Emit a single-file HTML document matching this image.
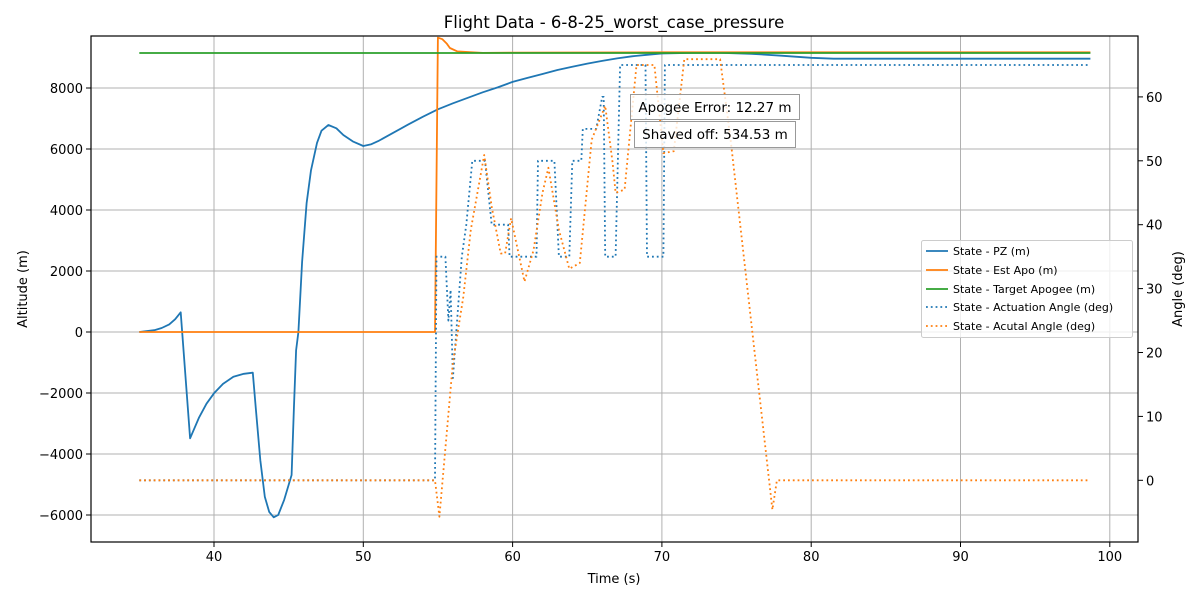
<!DOCTYPE html>
<html><head><meta charset="utf-8"><style>
body{margin:0;background:#fff;}
svg{display:block;font-family:"DejaVu Sans","Liberation Sans",sans-serif;}
</style></head><body>
<svg id="c" width="1200" height="600" xmlns="http://www.w3.org/2000/svg"></svg>
<script>
const xTicks=[40,50,60,70,80,90,100];
const yLeftTicks=[-6000,-4000,-2000,0,2000,4000,6000,8000];
const yRightTicks=[0,10,20,30,40,50,60];
const pzT=[35,36,36.5,37,37.4,37.77,38.4,39,39.5,40,40.6,41.3,42,42.6,42.8,43.1,43.4,43.7,44.0,44.3,44.7,45.2,45.35,45.5,45.65,45.9,46.2,46.5,46.9,47.2,47.66,48.2,48.66,49.3,50,50.5,51,52,53,54,55,56,57,58,59,60,61,62,63,64,65,66,67,68,69,70,72,74,76,78,80,81.5,98.7];
const pzV=[0,60,130,250,420,646,-3486,-2800,-2350,-2010,-1700,-1465,-1370,-1334,-2500,-4200,-5400,-5900,-6076,-6000,-5500,-4690,-2500,-600,0,2300,4220,5300,6200,6600,6787,6680,6459,6250,6098,6150,6260,6530,6800,7060,7300,7500,7680,7860,8020,8200,8330,8460,8590,8700,8800,8890,8970,9040,9090,9130,9150,9150,9120,9060,8990,8960,8960];
const apoT=[35,54.8,55.0,55.3,55.6,55.8,56.3,57,58,60,70,98.7];
const apoV=[0,0,9650,9600,9450,9311,9200,9180,9150,9160,9170,9170];
const tgtT=[35,98.7];
const tgtV=[9148,9148];
const actT=[35,54.8,54.9,55.5,55.7,55.85,56.0,56.6,56.9,57.3,58.15,58.6,59.7,59.8,61.6,61.7,62.8,63.1,63.8,64.0,64.6,64.7,65.6,66.0,66.1,66.2,66.9,67.2,68.9,69.0,70.1,70.2,98.7];
const actV=[0,0,35,35,25,29.8,16,35,40,50,50,40,40,35,35,50,50,35,35,50,50,55,55,60,60,35,35,65,65,35,35,65,65];
const realT=[35,54.8,55.1,56.0,56.7,57.2,58.1,58.6,59.2,59.5,59.9,60.8,61.4,62.0,62.4,63.1,63.8,64.5,65.3,66.2,66.7,66.9,67.5,68.3,69.5,70.1,70.8,71.5,73.9,74.6,77.4,77.7,98.7];
const realV=[0,0,-5.7,18.4,28.7,39.2,50.9,42.8,35.5,35.5,41,31.1,36,45,48.9,39.2,33.1,34,53.3,58.6,49.7,45,45.5,65,65,51.2,51.5,65.9,65.9,53.3,-4.6,0,0];

const L=91,R=1138,T=36,B=542;
const X=t=>214+(t-40)*14.93;
const YL=v=>332-v*0.0305;
const YR=v=>480.3-v*6.39;
const svg=document.getElementById('c');
const NS='http://www.w3.org/2000/svg';
function mk(tag,attrs,parent){const e=document.createElementNS(NS,tag);for(const k in attrs)e.setAttribute(k,attrs[k]);(parent||svg).appendChild(e);return e;}

const grid=mk('g',{});


xTicks.forEach(t=>{const l=mk('line',{x1:X(t),x2:X(t),y1:T,y2:B,stroke:'#b0b0b0','stroke-width':1},grid);

});
yLeftTicks.forEach(v=>{const l=mk('line',{x1:L,x2:R,y1:YL(v),y2:YL(v),stroke:'#b0b0b0','stroke-width':1},grid);

});

function series(T_,V_,Y,color,dash,name){
  const d=T_.map((t,i)=>(i?'L':'M')+X(t).toFixed(1)+' '+Y(V_[i]).toFixed(1)).join(' ');
  const a={d:d,fill:'none',stroke:color,'stroke-width':1.8,'stroke-linejoin':'round'};
  if(dash)a['stroke-dasharray']=dash;
  const p=mk('path',a);
  
  
}
series(pzT,pzV,YL,'#1f77b4',null,'pz-line');
series(apoT,apoV,YL,'#ff7f0e',null,'est-apo-line');
series(tgtT,tgtV,YL,'#2ca02c',null,'target-apogee-line');
series(actT,actV,YR,'#1f77b4','1.8 3','actuation-angle-line');
series(realT,realV,YR,'#ff7f0e','1.8 3','actual-angle-line');

const frame=mk('rect',{x:L,y:T,width:R-L,height:B-T,fill:'none',stroke:'#000','stroke-width':1.2});



xTicks.forEach(t=>{mk('line',{x1:X(t),x2:X(t),y1:B,y2:B+5,stroke:'#000'});
const tx=mk('text',{x:X(t),y:B+19,'font-size':13,'text-anchor':'middle'});tx.textContent=t;

});
yLeftTicks.forEach(v=>{mk('line',{x1:L-5,x2:L,y1:YL(v),y2:YL(v),stroke:'#000'});
const tx=mk('text',{x:L-8,y:YL(v)+5,'font-size':13,'text-anchor':'end'});tx.textContent=(v<0?'\u2212'+(-v):v);

});
yRightTicks.forEach(v=>{mk('line',{x1:R,x2:R+5,y1:YR(v),y2:YR(v),stroke:'#000'});
const tx=mk('text',{x:R+8,y:YR(v)+5,'font-size':13,'text-anchor':'start'});tx.textContent=v;

});
</script>
<svg style="position:absolute;left:0;top:0" width="1200" height="600" xmlns="http://www.w3.org/2000/svg">
<text x="614" y="28" font-size="16.5" text-anchor="middle" font-family="DejaVu Sans, Liberation Sans, sans-serif">Flight Data - 6-8-25_worst_case_pressure</text>
<text x="614" y="583" font-size="13" text-anchor="middle" font-family="DejaVu Sans, Liberation Sans, sans-serif">Time (s)</text>
<text transform="translate(27,289) rotate(-90)" font-size="13" text-anchor="middle" font-family="DejaVu Sans, Liberation Sans, sans-serif">Altitude (m)</text>
<text transform="translate(1182,289) rotate(-90)" font-size="13" text-anchor="middle" font-family="DejaVu Sans, Liberation Sans, sans-serif">Angle (deg)</text>
<g>
<rect x="630.5" y="94.5" width="169" height="25" fill="#fff" fill-opacity="0.8" stroke="#999"/>
<text x="715" y="112" font-size="13.5" text-anchor="middle" font-family="DejaVu Sans, Liberation Sans, sans-serif">Apogee Error: 12.27 m</text></g>
<g>
<rect x="634.5" y="121.5" width="161" height="26" fill="#fff" fill-opacity="0.8" stroke="#999"/>
<text x="715" y="139" font-size="13.5" text-anchor="middle" font-family="DejaVu Sans, Liberation Sans, sans-serif">Shaved off: 534.53 m</text></g>
<g font-family="DejaVu Sans, Liberation Sans, sans-serif" font-size="11">
<rect x="921.5" y="240.5" width="211" height="97" rx="2" fill="#fff" fill-opacity="0.8" stroke="#ccc"/>
<g><line x1="926" x2="948" y1="251" y2="251" stroke="#1f77b4" stroke-width="1.8"/><text x="953" y="255">State - PZ (m)</text></g>
<g><line x1="926" x2="948" y1="270" y2="270" stroke="#ff7f0e" stroke-width="1.8"/><text x="953" y="274">State - Est Apo (m)</text></g>
<g><line x1="926" x2="948" y1="289" y2="289" stroke="#2ca02c" stroke-width="1.8"/><text x="953" y="293">State - Target Apogee (m)</text></g>
<g><line x1="926" x2="948" y1="307" y2="307" stroke="#1f77b4" stroke-width="1.8" stroke-dasharray="1.8 3"/><text x="953" y="311">State - Actuation Angle (deg)</text></g>
<g><line x1="926" x2="948" y1="326" y2="326" stroke="#ff7f0e" stroke-width="1.8" stroke-dasharray="1.8 3"/><text x="953" y="330">State - Acutal Angle (deg)</text></g>
</g>
</svg>
</body></html>
